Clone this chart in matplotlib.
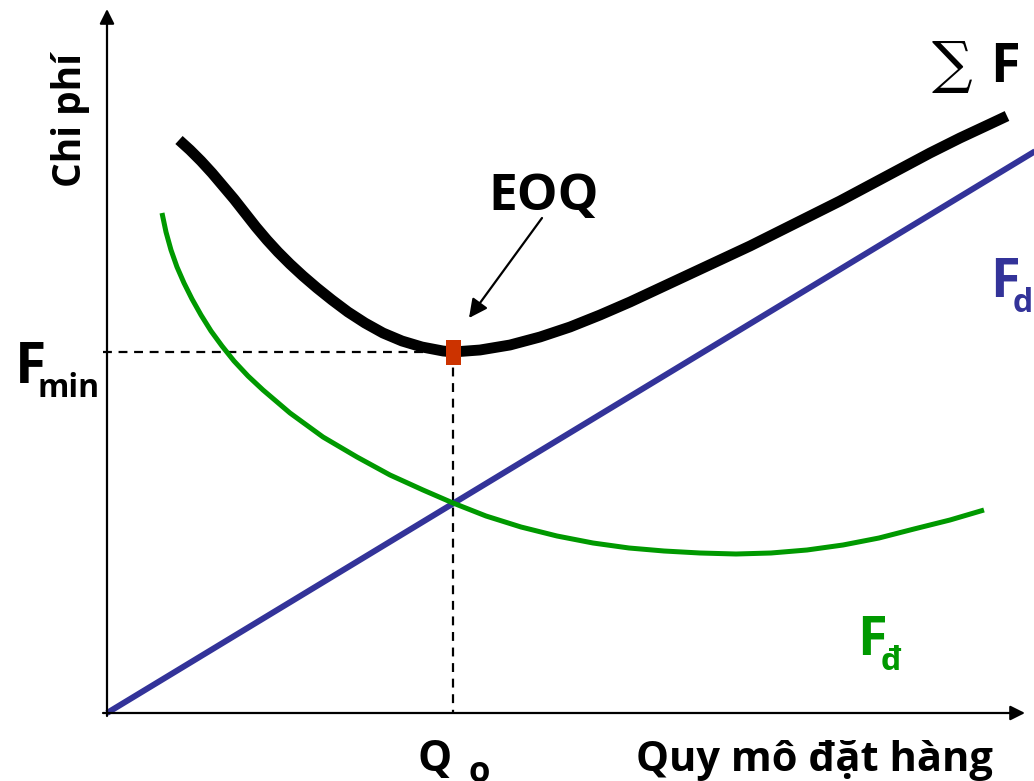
import matplotlib
matplotlib.use("Agg")
import matplotlib.pyplot as plt
from matplotlib.patches import Rectangle

# --- Data (arbitrary units: origin at the axes corner) ---
# total cost curve (sum F)
total_x = [72, 83, 94, 105, 116, 127, 138, 149, 160, 171, 183, 196, 210, 225,
           241, 258, 276, 295, 315, 336, 346,
           373, 403, 433, 463, 493, 523, 553, 583, 613, 643, 673, 703, 733,
           763, 793, 823, 853, 883, 900]
total_y = [573, 563, 552, 540, 527, 514, 500, 486, 473, 461, 449, 437, 425, 413,
           401, 390, 380, 372, 366, 362, 361,
           363, 368, 376, 386, 398, 411, 425, 439, 453, 467, 482, 497, 512,
           528, 544, 560, 575, 589, 597]

# ordering cost curve (green, F_đ)
order_x = [55, 59, 64, 70, 77, 85, 94, 104, 115, 127, 141, 156, 183, 216, 250,
           283, 316, 346, 379, 414, 450, 486, 522, 557, 593, 629, 664, 700,
           736, 772, 807, 843, 877]
order_y = [500, 481, 463, 446, 430, 414, 398, 382, 367, 352, 337, 323, 300, 276,
           256, 238, 223, 210, 197, 186, 177, 170, 165, 162, 160, 159, 160, 163,
           168, 175, 184, 193, 203]

# holding cost line (blue, F_d)
hold_x = [0, 940]
hold_y = [0, 569]

Q0 = 346
F_MIN = 361

W, H = 1034, 781

plt.rcParams['font.family'] = ['Open Sans', 'DejaVu Sans']

fig = plt.figure(figsize=(W / 100, H / 100), dpi=100)
ax = fig.add_axes([0, 0, 1, 1])
ax.set_xlim(-107, W - 107)
ax.set_ylim(-(H - 713), 713)
ax.axis('off')

# axes with arrows
arrow_kw = dict(arrowstyle='-|>', lw=1.6, color='black',
                mutation_scale=22, shrinkA=0, shrinkB=0)
ax.annotate('', xy=(0, 704), xytext=(0, -3), arrowprops=arrow_kw)
ax.annotate('', xy=(918, 0), xytext=(-4, 0), arrowprops=arrow_kw)

# dashed guides
ax.plot([-4, Q0], [F_MIN, F_MIN], color='black', lw=1.6, dashes=(4, 3))
ax.plot([Q0, Q0], [F_MIN, 0], color='black', lw=1.6, dashes=(4, 3))

# curves
ax.plot(hold_x, hold_y, color='#333399', lw=4.3, solid_capstyle='butt')
ax.plot(order_x, order_y, color='#009900', lw=3.6, solid_capstyle='butt',
        solid_joinstyle='round')
ax.plot(total_x, total_y, color='black', lw=7.8, solid_capstyle='butt',
        solid_joinstyle='round')

# EOQ marker
ax.add_patch(Rectangle((Q0 - 7.5, F_MIN - 12.5), 15, 25,
                       facecolor='#CC3300', edgecolor='none', zorder=5))

# EOQ arrow
ax.annotate('', xy=(362, 395), xytext=(435, 495),
            arrowprops=dict(arrowstyle='-|>', lw=1.6, color='black',
                            mutation_scale=28, shrinkA=0, shrinkB=0))


def ftext(x, y, s, **kw):
    fig.text(x / W, 1 - y / H, s, ha='left', va='baseline', **kw)


ftext(488, 210, 'EOQ', fontsize=37, fontweight='bold')
ftext(15, 383, 'F', fontsize=41, fontweight='bold')
ftext(38, 397, 'min', fontsize=23, fontweight='bold')
ftext(417, 771, 'Q', fontsize=31, fontweight='bold')
ftext(468, 782, 'o', fontsize=25, fontweight='bold')
ftext(636, 771, 'Quy mô đặt hàng', fontsize=30, fontweight='bold')
ftext(932, 82, '∑', fontsize=41, family='DejaVu Serif')
ftext(990, 82, 'F', fontsize=39, fontweight='bold')
ftext(990, 297, 'F', fontsize=39, fontweight='bold', color='#333399')
ftext(1013, 312, 'd', fontsize=23, fontweight='bold', color='#333399')
ftext(857, 655, 'F', fontsize=39, fontweight='bold', color='#009900')
ftext(881, 670, 'đ', fontsize=23, fontweight='bold', color='#009900')
fig.text(71 / W, 1 - 120 / H, 'Chi phí', fontsize=28, fontweight='bold',
         rotation=90, ha='center', va='center')

fig.savefig('out.png', dpi=100)
